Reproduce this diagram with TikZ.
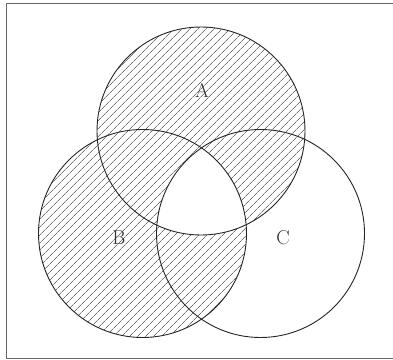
\documentclass[tikz,border=0pt]{standalone}
\usetikzlibrary{patterns.meta}
\begin{document}
\begin{tikzpicture}[x=1pt, y=1pt,
        hatch/.style={pattern={Lines[angle=45, distance=5.4pt, line width=0.7pt]}, pattern color=black!55},
        set/.style={line width=0.9pt, draw=black!85},
        setlabel/.style={font=\fontsize{20}{24}\selectfont, text=black!80}]
    \useasboundingbox (0,0) rectangle (393,359);
    % the three sets
    \newcommand{\setA}{(201,228) circle (104)}
    \newcommand{\setB}{(142.5,125.5) circle (104)}
    \newcommand{\setC}{(260.5,125.5) circle (104)}

    % frame, right edge runs off the picture
    \draw[line width=1pt, black!60] (400,355) -- (6,355) -- (6,1) -- (400,1);

    % A and B hatched as one region
    \fill[hatch, nonzero rule] \setA \setB;

    % the common part of A, B and C is left blank
    \begin{scope}
        \clip \setA;
        \clip \setB;
        \fill[white] \setC;
    \end{scope}

    \draw[set] \setA;
    \draw[set] \setB;
    \draw[set] \setC;

    \node[setlabel] (labA) at (202,269) {A};
    \node[setlabel] (labB) at (119,121) {B};
    \node[setlabel] (labC) at (283,121) {C};
\end{tikzpicture}
\end{document}
